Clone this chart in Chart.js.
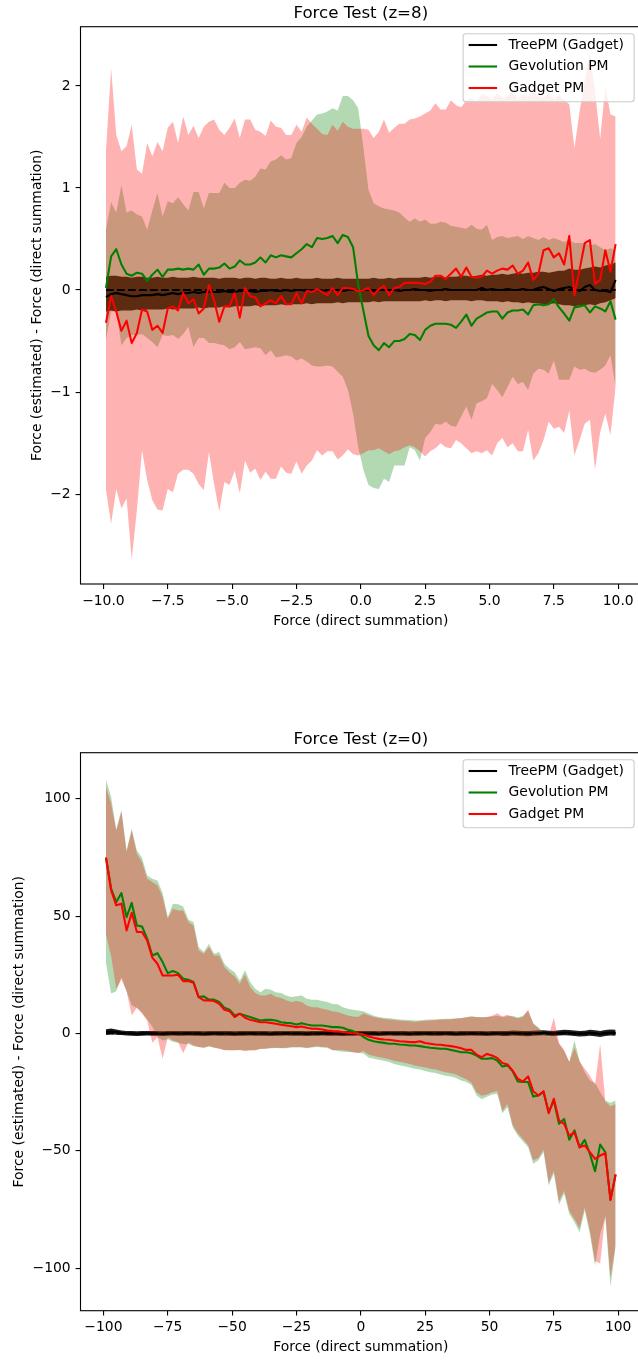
<!DOCTYPE html>
<html><head><meta charset="utf-8">
<script src="https://cdn.jsdelivr.net/npm/chart.js@4/dist/chart.umd.min.js"></script>
<style>
html,body{margin:0;padding:0;background:#fff;width:638px;height:1360px;overflow:hidden;}
#wrap{position:relative;width:638px;height:1360px;overflow:hidden;background:#fff;}
canvas{position:absolute;left:0;}
#c1{top:0;}
#c2{top:680px;}
</style></head><body>
<div id="wrap"><canvas id="c1" width="660" height="680"></canvas><canvas id="c2" width="660" height="680"></canvas></div>
<script>
// ---------------- z = 8 ----------------
const xs8 = [-9.9,-9.7,-9.5,-9.3,-9.1,-8.9,-8.7,-8.5,-8.3,-8.1,
-7.9,-7.7,-7.5,-7.3,-7.1,-6.9,-6.7,-6.5,-6.3,-6.1,
-5.9,-5.7,-5.5,-5.3,-5.1,-4.9,-4.7,-4.5,-4.3,-4.1,
-3.9,-3.7,-3.5,-3.3,-3.1,-2.9,-2.7,-2.5,-2.3,-2.1,
-1.9,-1.7,-1.5,-1.3,-1.1,-0.9,-0.7,-0.5,-0.3,-0.1,
0.1,0.3,0.5,0.7,0.9,1.1,1.3,1.5,1.7,1.9,
2.1,2.3,2.5,2.7,2.9,3.1,3.3,3.5,3.7,3.9,
4.1,4.3,4.5,4.7,4.9,5.1,5.3,5.5,5.7,5.9,
6.1,6.3,6.5,6.7,6.9,7.1,7.3,7.5,7.7,7.9,
8.1,8.3,8.5,8.7,8.9,9.1,9.3,9.5,9.7,9.9];

const tree8 = [-0.07,-0.04,-0.03,-0.04,-0.05,-0.06,-0.06,-0.05,-0.05,-0.05,
-0.04,-0.05,-0.04,-0.03,-0.04,-0.03,-0.03,-0.02,-0.03,-0.02,
-0.02,-0.02,-0.02,-0.01,-0.02,-0.02,-0.01,-0.01,-0.01,-0.02,
-0.01,-0.01,0.00,-0.01,-0.01,0.00,-0.01,0.00,0.00,-0.01,
0.00,0.00,-0.01,0.00,0.00,0.00,-0.01,0.00,0.00,0.00,
0.00,0.00,-0.01,0.00,0.00,0.00,0.00,-0.01,0.00,0.00,
0.01,0.00,0.00,-0.01,0.00,0.00,0.01,0.00,0.00,0.00,
0.00,0.00,0.00,0.02,0.00,0.01,0.00,0.00,0.01,0.00,
0.00,0.01,0.00,0.00,0.02,0.03,0.01,-0.01,0.01,0.02,
0.03,0.01,-0.01,0.03,0.05,0.00,-0.01,-0.01,-0.02,0.10];
const treeHi8 = [0.13,0.14,0.14,0.13,0.13,0.12,0.13,0.13,0.12,0.12,
0.13,0.12,0.12,0.13,0.12,0.12,0.12,0.13,0.12,0.12,
0.12,0.12,0.11,0.12,0.12,0.12,0.11,0.12,0.12,0.11,
0.12,0.12,0.11,0.11,0.12,0.11,0.11,0.12,0.11,0.11,
0.11,0.12,0.11,0.11,0.11,0.12,0.11,0.11,0.11,0.11,
0.11,0.11,0.12,0.11,0.11,0.12,0.11,0.12,0.12,0.12,
0.12,0.12,0.13,0.12,0.13,0.13,0.12,0.13,0.13,0.14,
0.14,0.13,0.14,0.15,0.14,0.15,0.15,0.16,0.15,0.16,
0.17,0.16,0.17,0.17,0.18,0.18,0.17,0.18,0.19,0.19,
0.21,0.20,0.20,0.21,0.22,0.23,0.22,0.24,0.25,0.27];
const treeLo8 = [-0.21,-0.20,-0.21,-0.20,-0.20,-0.20,-0.19,-0.20,-0.19,-0.19,
-0.19,-0.19,-0.18,-0.19,-0.18,-0.18,-0.18,-0.18,-0.17,-0.18,
-0.17,-0.17,-0.17,-0.16,-0.17,-0.16,-0.16,-0.16,-0.16,-0.15,
-0.16,-0.15,-0.15,-0.15,-0.14,-0.15,-0.14,-0.14,-0.14,-0.13,
-0.14,-0.13,-0.13,-0.13,-0.13,-0.12,-0.13,-0.12,-0.12,-0.12,
-0.12,-0.12,-0.11,-0.12,-0.11,-0.11,-0.11,-0.11,-0.11,-0.11,
-0.11,-0.11,-0.10,-0.11,-0.10,-0.10,-0.11,-0.10,-0.10,-0.10,
-0.10,-0.11,-0.10,-0.10,-0.11,-0.11,-0.11,-0.12,-0.11,-0.12,
-0.12,-0.13,-0.12,-0.13,-0.13,-0.14,-0.14,-0.13,-0.14,-0.15,
-0.15,-0.16,-0.15,-0.15,-0.14,-0.15,-0.13,-0.12,-0.10,-0.08];

const gevo8 = [0.02,0.33,0.40,0.25,0.16,0.14,0.17,0.16,0.09,0.15,
0.20,0.13,0.20,0.20,0.21,0.20,0.21,0.20,0.25,0.15,
0.21,0.21,0.22,0.26,0.21,0.23,0.29,0.25,0.25,0.27,
0.32,0.27,0.34,0.32,0.34,0.33,0.32,0.36,0.40,0.45,
0.42,0.51,0.50,0.51,0.53,0.46,0.54,0.52,0.42,0.05,
-0.20,-0.45,-0.54,-0.59,-0.52,-0.56,-0.50,-0.50,-0.48,-0.43,
-0.44,-0.49,-0.39,-0.35,-0.33,-0.33,-0.33,-0.34,-0.37,-0.31,
-0.24,-0.35,-0.28,-0.25,-0.22,-0.21,-0.21,-0.28,-0.22,-0.20,
-0.20,-0.19,-0.24,-0.15,-0.14,-0.15,-0.14,-0.09,-0.17,-0.23,
-0.30,-0.17,-0.16,-0.15,-0.22,-0.16,-0.18,-0.21,-0.11,-0.29];
const gevoHi8 = [0.59,0.86,0.76,1.03,0.76,0.78,0.74,0.72,0.59,0.78,
0.95,0.72,0.87,0.85,0.91,0.84,0.78,0.96,0.96,0.80,
0.95,0.95,0.95,1.05,1.00,1.00,1.05,1.08,1.07,1.11,
1.19,1.18,1.26,1.28,1.32,1.28,1.29,1.44,1.50,1.60,
1.66,1.72,1.73,1.75,1.78,1.76,1.90,1.90,1.86,1.78,
1.40,0.98,0.85,0.82,0.80,0.79,0.78,0.76,0.71,0.67,
0.70,0.67,0.69,0.65,0.65,0.67,0.66,0.63,0.62,0.61,
0.60,0.64,0.60,0.59,0.64,0.49,0.52,0.53,0.51,0.52,
0.53,0.50,0.53,0.51,0.49,0.52,0.49,0.51,0.49,0.47,
0.49,0.46,0.46,0.46,0.44,0.45,0.42,0.39,0.41,0.39];
const gevoLo8 = [-0.49,-0.21,-0.21,-0.54,-0.47,-0.44,-0.44,-0.43,-0.47,-0.51,
-0.56,-0.44,-0.45,-0.44,-0.48,-0.43,-0.36,-0.56,-0.47,-0.47,
-0.52,-0.52,-0.53,-0.54,-0.58,-0.56,-0.51,-0.58,-0.57,-0.56,
-0.57,-0.64,-0.59,-0.66,-0.65,-0.64,-0.65,-0.69,-0.67,-0.70,
-0.74,-0.75,-0.75,-0.74,-0.75,-0.80,-0.85,-0.98,-1.21,-1.54,
-1.76,-1.91,-1.94,-1.95,-1.85,-1.88,-1.72,-1.72,-1.72,-1.54,
-1.57,-1.67,-1.45,-1.39,-1.31,-1.32,-1.29,-1.33,-1.34,-1.24,
-1.14,-1.27,-1.11,-1.09,-1.06,-0.92,-0.98,-1.05,-0.95,-0.85,
-0.92,-0.90,-0.98,-0.82,-0.77,-0.78,-0.82,-0.69,-0.88,-0.88,
-0.88,-0.75,-0.78,-0.77,-0.80,-0.81,-0.78,-0.74,-0.64,-0.95];

const gadg8 = [-0.32,-0.06,-0.21,-0.40,-0.30,-0.52,-0.42,-0.19,-0.21,-0.39,
-0.35,-0.42,-0.18,-0.16,-0.20,-0.03,-0.13,-0.09,-0.23,-0.18,
0.05,-0.10,-0.31,-0.16,-0.16,-0.03,-0.27,0.02,-0.06,-0.07,
-0.16,-0.13,-0.10,-0.13,-0.06,-0.14,-0.14,-0.03,-0.13,-0.01,
-0.02,0.01,-0.02,-0.05,0.02,-0.05,0.02,0.02,0.01,-0.01,
0.00,0.02,-0.05,0.01,0.04,-0.05,0.02,0.03,0.07,0.07,
0.07,0.07,0.06,0.08,0.14,0.14,0.11,0.16,0.21,0.13,
0.22,0.13,0.12,0.13,0.19,0.16,0.19,0.21,0.20,0.24,
0.16,0.19,0.27,0.10,0.16,0.39,0.41,0.32,0.36,0.25,
0.53,-0.05,0.20,0.46,0.49,0.06,0.10,0.39,0.18,0.45];
const gadgHi8 = [1.37,2.17,1.52,1.36,1.41,1.62,1.18,1.14,1.44,1.31,
1.45,1.36,1.59,1.65,1.44,1.70,1.52,1.61,1.49,1.60,
1.65,1.67,1.57,1.52,1.59,1.68,1.49,1.67,1.67,1.57,
1.55,1.51,1.66,1.60,1.59,1.52,1.52,1.62,1.55,1.69,
1.63,1.58,1.53,1.52,1.62,1.56,1.65,1.60,1.58,1.58,
1.58,1.57,1.49,1.55,1.67,1.54,1.59,1.63,1.63,1.67,
1.68,1.70,1.73,1.76,1.83,1.77,1.77,1.86,1.81,1.79,
1.86,1.88,1.85,1.92,1.90,1.87,1.93,1.88,1.90,1.95,
1.87,1.92,1.89,1.95,1.90,1.88,1.93,1.87,1.91,1.86,
1.82,1.39,1.75,2.05,2.33,1.95,1.48,2.00,1.72,1.70];
const gadgLo8 = [-1.96,-2.29,-1.95,-2.14,-2.04,-2.64,-2.16,-1.57,-1.86,-2.06,
-2.15,-2.16,-1.95,-1.98,-1.80,-1.76,-1.76,-1.80,-1.90,-1.96,
-1.59,-1.90,-2.17,-1.88,-1.91,-1.77,-1.99,-1.67,-1.79,-1.75,
-1.86,-1.78,-1.85,-1.85,-1.73,-1.79,-1.80,-1.68,-1.80,-1.72,
-1.67,-1.57,-1.62,-1.58,-1.58,-1.66,-1.62,-1.56,-1.61,-1.62,
-1.60,-1.57,-1.57,-1.55,-1.58,-1.61,-1.58,-1.57,-1.54,-1.52,
-1.54,-1.58,-1.63,-1.58,-1.55,-1.50,-1.54,-1.55,-1.47,-1.50,
-1.55,-1.60,-1.58,-1.60,-1.57,-1.62,-1.50,-1.45,-1.54,-1.50,
-1.58,-1.58,-1.37,-1.67,-1.60,-1.47,-1.29,-1.36,-1.34,-1.40,
-1.18,-1.62,-1.47,-1.31,-1.27,-1.76,-1.39,-1.21,-1.42,-0.95];

const xTicks8 = [-10,-7.5,-5,-2.5,0,2.5,5,7.5,10];
const xTickLabels8 = ['\u221210.0','\u22127.5','\u22125.0','\u22122.5','0.0','2.5','5.0','7.5','10.0'];
const yTicks8 = [-2,-1,0,1,2];
const yTickLabels8 = ['\u22122','\u22121','0','1','2'];

// ---------------- z = 0 ----------------
const xs0 = [-99,-97,-95,-93,-91,-89,-87,-85,-83,-81,
-79,-77,-75,-73,-71,-69,-67,-65,-63,-61,
-59,-57,-55,-53,-51,-49,-47,-45,-43,-41,
-39,-37,-35,-33,-31,-29,-27,-25,-23,-21,
-19,-17,-15,-13,-11,-9,-7,-5,-3,-1,
1,3,5,7,9,11,13,15,17,19,
21,23,25,27,29,31,33,35,37,39,
41,43,45,47,49,51,53,55,57,59,
61,63,65,67,69,71,73,75,77,79,
81,83,85,87,89,91,93,95,97,99];

const tree0 = [0.6,0.9,0.6,0.3,0.1,0.0,-0.1,0.0,0.1,0.0,
0.0,-0.1,0.0,0.1,0.0,0.0,0.1,0.0,0.0,-0.1,
0.0,0.1,0.0,0.0,0.0,-0.1,0.0,0.0,0.1,0.0,
0.0,0.0,-0.1,0.0,0.0,0.1,0.0,0.0,0.0,-0.1,
0.0,0.0,0.1,0.0,0.0,0.0,-0.1,0.0,0.0,0.1,
0.0,0.0,0.0,-0.1,0.0,0.1,0.0,0.0,0.0,-0.1,
0.0,0.0,0.1,0.0,0.0,0.0,0.1,0.0,-0.1,0.0,
0.0,0.1,0.0,0.0,-0.1,0.0,0.1,0.0,0.0,0.2,
0.1,0.0,-0.1,0.1,0.2,0.3,0.1,0.0,0.2,0.4,
0.3,0.1,-0.1,0.0,0.3,0.1,-0.2,0.2,0.4,0.3];
const treeHi0 = [1.8,2.1,1.7,1.3,1.1,1.0,0.9,1.0,1.1,1.0,
1.0,0.9,1.0,1.1,1.0,1.0,1.1,1.0,1.0,0.9,
1.0,1.1,1.0,1.0,1.0,0.9,1.0,1.0,1.1,1.0,
1.0,1.0,0.9,1.0,1.0,1.1,1.0,1.0,1.0,0.9,
1.0,1.0,1.1,1.0,1.0,1.0,0.9,1.0,1.0,1.1,
1.0,1.0,1.0,0.9,1.0,1.1,1.0,1.0,1.0,0.9,
1.0,1.0,1.1,1.0,1.0,1.0,1.1,1.0,0.9,1.0,
1.0,1.1,1.0,1.0,0.9,1.0,1.1,1.1,1.1,1.3,
1.2,1.1,1.0,1.2,1.3,1.4,1.2,1.1,1.4,1.6,
1.5,1.3,1.1,1.2,1.6,1.4,1.1,1.5,1.7,1.6];
const treeLo0 = [-0.6,-0.3,-0.5,-0.7,-0.9,-1.0,-1.1,-1.0,-0.9,-1.0,
-1.0,-1.1,-1.0,-0.9,-1.0,-1.0,-0.9,-1.0,-1.0,-1.1,
-1.0,-0.9,-1.0,-1.0,-1.0,-1.1,-1.0,-1.0,-0.9,-1.0,
-1.0,-1.0,-1.1,-1.0,-1.0,-0.9,-1.0,-1.0,-1.0,-1.1,
-1.0,-1.0,-0.9,-1.0,-1.0,-1.0,-1.1,-1.0,-1.0,-0.9,
-1.0,-1.0,-1.0,-1.1,-1.0,-0.9,-1.0,-1.0,-1.0,-1.1,
-1.0,-1.0,-0.9,-1.0,-1.0,-1.0,-0.9,-1.0,-1.1,-1.0,
-1.0,-0.9,-1.0,-1.0,-1.1,-1.0,-0.9,-1.1,-1.1,-0.9,
-1.0,-1.1,-1.2,-1.0,-0.9,-0.8,-1.0,-1.1,-0.9,-0.8,
-0.9,-1.1,-1.3,-1.2,-1.0,-1.2,-1.5,-1.1,-0.9,-1.0];

const gevo0 = [74.9,61.7,56.0,59.8,49.6,55.6,46.0,45.6,40.4,33.2,
34.2,30.4,25.7,26.6,25.7,23.3,22.9,21.9,15.5,15.8,
14.4,14.4,13.4,11.0,10.1,7.7,8.4,7.7,7.0,6.3,
5.5,5.8,5.8,5.5,4.8,4.5,4.4,3.8,4.4,3.8,
3.4,3.4,3.4,3.1,2.7,2.7,2.4,1.6,1.0,0.1,
-1.5,-2.7,-3.3,-3.7,-4.0,-4.4,-4.4,-4.7,-4.8,-5.1,
-5.1,-5.4,-5.8,-6.1,-6.3,-6.5,-6.5,-7.0,-7.5,-8.0,
-8.0,-8.4,-9.4,-10.8,-10.8,-10.5,-11.5,-14.1,-13.6,-16.1,
-20.5,-20.7,-20.7,-26.9,-26.4,-25.0,-33.5,-28.6,-38.5,-36.4,
-45.3,-41.3,-48.5,-45.3,-51.3,-58.7,-47.3,-50.6,-70.9,-60.1];
const gevoHi0 = [108.1,100.7,86.8,95.3,78.0,87.2,78.0,74.9,67.3,65.9,
65.2,59.8,49.6,55.3,55.0,54.1,48.5,47.5,36.8,34.7,
38.2,34.0,34.7,29.7,27.6,26.1,22.6,26.9,21.9,19.0,
17.6,19.0,18.6,17.6,17.2,16.2,15.5,15.8,16.2,14.8,
14.4,14.4,13.8,13.4,12.6,12.4,11.2,10.5,10.1,9.8,
9.5,8.5,7.5,7.0,6.7,6.5,6.3,6.0,5.8,5.7,
5.5,5.6,5.8,5.9,6.0,6.2,6.3,6.3,6.5,6.6,
7.0,7.2,7.0,7.0,7.0,7.2,7.5,7.0,7.3,7.5,
6.8,7.5,9.6,4.5,2.5,0.5,-1.5,1.5,-4.5,-7.5,
-12.0,-3.0,-11.5,-16.5,-20.0,-21.0,-25.0,-28.6,-29.5,-28.6];
const gevoLo0 = [30.0,17.0,18.0,24.0,18.0,12.0,11.0,9.0,6.0,3.0,
-1.5,-3.0,-2.5,-3.5,-4.0,-4.5,-4.5,-5.5,-5.8,-6.1,
-5.5,-6.0,-6.4,-7.0,-7.2,-7.2,-7.0,-7.3,-7.2,-7.2,
-6.6,-6.5,-6.3,-6.2,-6.3,-6.3,-6.0,-6.0,-6.0,-6.3,
-6.0,-5.8,-6.0,-6.2,-7.2,-7.5,-7.8,-7.9,-8.0,-8.2,
-8.5,-10.2,-10.8,-11.2,-11.6,-12.2,-13.0,-13.5,-14.0,-14.5,
-15.0,-15.4,-16.0,-16.5,-16.8,-17.5,-18.0,-18.3,-19.0,-20.0,
-20.7,-22.0,-26.4,-28.0,-27.0,-26.0,-25.7,-34.0,-31.4,-40.0,
-43.5,-46.0,-48.5,-55.5,-54.0,-50.6,-64.8,-59.8,-73.0,-68.3,
-76.9,-80.4,-84.7,-75.4,-85.4,-98.9,-85.4,-78.3,-107.8,-91.1];

const gadg0 = [74.9,61.0,54.6,55.3,43.9,51.4,43.2,43.2,39.6,32.3,
29.7,24.7,24.7,24.7,25.0,22.3,22.3,21.6,15.5,14.1,
14.1,13.8,12.6,10.1,9.5,7.0,8.4,6.7,5.8,5.3,
4.8,4.8,4.5,4.1,3.7,3.4,3.1,2.7,3.0,2.4,
2.0,2.0,1.7,1.3,1.0,0.9,0.6,0.3,0.1,-0.1,
-0.4,-1.3,-1.8,-2.3,-2.6,-2.7,-3.0,-3.3,-3.4,-3.7,
-3.7,-3.3,-4.1,-4.4,-4.7,-4.8,-5.1,-5.4,-5.8,-6.3,
-7.0,-7.0,-9.0,-10.1,-8.7,-9.4,-10.4,-12.6,-13.2,-15.8,
-19.3,-20.5,-18.3,-24.6,-26.4,-24.6,-34.0,-27.8,-37.1,-38.5,
-43.5,-42.1,-48.5,-47.7,-50.6,-53.4,-52.0,-51.0,-70.9,-60.1];
const gadgHi0 = [105.0,97.9,86.5,94.3,77.3,86.5,76.6,73.0,65.9,64.5,
63.1,58.1,48.9,53.1,52.4,52.4,47.5,46.0,35.4,34.0,
36.8,33.2,33.2,28.3,26.1,24.3,21.2,25.1,19.7,17.2,
16.2,16.2,16.9,15.5,15.2,14.1,13.4,13.8,13.4,11.9,
11.2,11.2,10.5,10.1,9.5,9.1,8.4,7.7,7.2,7.0,
8.5,7.8,7.0,6.6,6.2,6.0,5.7,5.5,5.3,5.2,
5.0,5.2,5.4,5.5,5.7,6.0,6.0,6.1,6.3,6.5,
6.8,7.2,7.0,6.8,7.0,7.5,8.6,7.2,8.0,7.0,
6.5,7.0,10.2,4.0,2.2,0.0,-1.0,6.7,-4.0,-7.0,
-12.2,-6.0,-12.0,-15.0,-18.0,-22.0,-4.4,-29.0,-31.0,-30.0];
const gadgLo0 = [42.0,33.0,19.0,23.0,18.0,7.7,11.0,8.4,5.5,-4.0,
-1.6,-10.8,-1.6,-3.0,-3.7,-8.4,-3.7,-5.1,-5.8,-6.1,
-5.5,-6.1,-6.5,-7.2,-7.2,-7.2,-7.0,-7.5,-7.2,-7.2,
-6.5,-6.5,-6.1,-6.1,-6.2,-6.1,-5.8,-5.8,-5.8,-6.1,
-5.8,-5.5,-5.8,-5.8,-7.0,-7.0,-7.2,-7.5,-8.0,-8.4,
-7.5,-9.0,-9.6,-10.0,-10.4,-11.0,-11.6,-12.0,-12.5,-13.0,
-13.6,-14.1,-14.5,-15.0,-15.4,-16.0,-16.5,-17.0,-17.5,-18.5,
-19.5,-21.0,-25.0,-26.5,-26.0,-25.0,-24.5,-33.0,-30.0,-39.0,
-42.5,-45.0,-47.5,-54.0,-53.0,-49.5,-63.5,-58.5,-71.5,-67.0,
-75.5,-79.0,-83.0,-74.0,-84.0,-97.0,-98.0,-77.0,-104.0,-90.0];

const xTicks0 = [-100,-75,-50,-25,0,25,50,75,100];
const xTickLabels0 = ['\u2212100','\u221275','\u221250','\u221225','0','25','50','75','100'];
const yTicks0 = [-100,-50,0,50,100];
const yTickLabels0 = ['\u2212100','\u221250','0','50','100'];

const seriesNames = ['TreePM (Gadget)', 'Gevolution PM', 'Gadget PM'];
const titleText8 = 'Force Test (z=8)';
const titleText0 = 'Force Test (z=0)';
const xTitle = 'Force (direct summation)';
const yTitle = 'Force (estimated) - Force (direct summation)';

// ---------------- styles ----------------
const lineColors = ['#000000', '#008000', '#ff0000'];
const bandColors = ['rgba(0,0,0,0.88)', 'rgba(0,128,0,0.3)', 'rgba(255,0,0,0.3)'];
const FONT = '"DejaVu Sans", sans-serif';
Chart.defaults.font.family = FONT;
Chart.defaults.color = '#000';

function pts(xs, ys) { return xs.map((x, i) => ({x: x, y: ys[i]})); }

function buildDatasets(xs, mids, los, his) {
  const ds = [];
  for (let k = 0; k < 3; k++) {
    ds.push({label: '_lo' + k, data: pts(xs, los[k]), borderWidth: 0, borderColor: 'rgba(0,0,0,0)',
             pointRadius: 0, fill: false, order: 40 - k * 10});
    ds.push({label: '_hi' + k, data: pts(xs, his[k]), borderWidth: 0, borderColor: 'rgba(0,0,0,0)',
             pointRadius: 0, fill: '-1', backgroundColor: bandColors[k], order: 40 - k * 10});
  }
  ds.push({label: '_zero', data: [{x: xs[0], y: 0}, {x: xs[xs.length - 1], y: 0}], borderColor: '#000',
           borderWidth: 2.08, borderDash: [7.7, 3.3], pointRadius: 0, fill: false, order: 4});
  for (let k = 0; k < 3; k++) {
    ds.push({label: seriesNames[k], inLegend: true, data: pts(xs, mids[k]), borderColor: lineColors[k],
             borderWidth: 2.08, pointRadius: 0, fill: false, order: 3 - k, borderJoinStyle: 'round'});
  }
  return ds;
}

const mplPlugin = {
  id: 'mpl',
  afterDatasetsDraw(chart) {
    const {ctx, chartArea: a} = chart;
    ctx.save();
    ctx.strokeStyle = '#000';
    ctx.lineWidth = 1.11;
    ctx.strokeRect(a.left, a.top, a.right - a.left, a.bottom - a.top);
    ctx.restore();
  },
  afterDraw(chart) {
    const o = chart.options.plugins.mpl;
    const {ctx, chartArea: a} = chart;
    const w = o.w, h = o.h;
    const x0 = a.right - o.pad - w, y0 = a.top + o.pad;
    ctx.save();
    ctx.beginPath();
    ctx.roundRect(x0, y0, w, h, 3);
    ctx.fillStyle = 'rgba(255,255,255,0.8)';
    ctx.fill();
    ctx.strokeStyle = '#cccccc';
    ctx.lineWidth = 1.1;
    ctx.stroke();
    ctx.font = '13.89px ' + FONT;
    ctx.textBaseline = 'middle';
    ctx.textAlign = 'left';
    const items = chart.data.datasets.filter(d => d.inLegend);
    items.forEach((d, k) => {
      const y = y0 + o.first + k * o.gap;
      ctx.strokeStyle = d.borderColor;
      ctx.lineWidth = 2.08;
      ctx.beginPath();
      ctx.moveTo(x0 + 5.5, y);
      ctx.lineTo(x0 + 34, y);
      ctx.stroke();
      ctx.fillStyle = '#000';
      ctx.fillText(d.label, x0 + 45.5, y);
    });
    ctx.restore();
  }
};

function makeChart(id, s) {
  const tickFont = {family: FONT, size: 13.89};
  return new Chart(document.getElementById(id), {
    type: 'line',
    data: {datasets: buildDatasets(s.xs, s.mids, s.los, s.his)},
    options: {
      responsive: false, maintainAspectRatio: false, animation: false, devicePixelRatio: 1,
      events: [],
      layout: {padding: s.layoutPad},
      plugins: {
        legend: {display: false},
        tooltip: {enabled: false},
        filler: {propagate: false, drawTime: 'beforeDatasetsDraw'},
        title: {display: true, text: s.title, color: '#000', fullSize: false,
                font: {family: FONT, size: 16.67, weight: 'normal'}, padding: s.titlePad},
        mpl: {pad: 7, w: 171, h: 68, first: 11.3, gap: 21.5}
      },
      scales: {
        x: {
          type: 'linear', min: s.xmin, max: s.xmax, offset: false,
          afterBuildTicks: ax => { ax.ticks = s.xTicks.map(v => ({value: v})); },
          afterFit: ax => { ax.height = s.xH; },
          ticks: {autoSkip: false, maxRotation: 0, minRotation: 0, padding: 3.7, color: '#000', font: tickFont,
                  callback: (v, i) => s.xLabels[i]},
          grid: {display: true, drawOnChartArea: false, drawTicks: true, tickLength: 4.9, color: '#000', lineWidth: 1.11},
          border: {display: false},
          title: {display: true, text: xTitle, color: '#000', font: tickFont, padding: {top: 0, bottom: 4.7}}
        },
        y: {
          type: 'linear', min: s.ymin, max: s.ymax,
          afterBuildTicks: ax => { ax.ticks = s.yTicks.map(v => ({value: v})); },
          afterFit: ax => { ax.width = 80.5; },
          ticks: {autoSkip: false, padding: 4.9, color: '#000', font: tickFont,
                  callback: (v, i) => s.yLabels[i]},
          grid: {display: true, drawOnChartArea: false, drawTicks: true, tickLength: 4.9, color: '#000', lineWidth: 1.11},
          border: {display: false},
          title: {display: true, text: yTitle, color: '#000', font: tickFont, padding: {top: s.yTitlePad, bottom: 0}}
        }
      }
    },
    plugins: [mplPlugin]
  });
}

makeChart('c1', {
  xs: xs8, mids: [tree8, gevo8, gadg8], los: [treeLo8, gevoLo8, gadgLo8], his: [treeHi8, gevoHi8, gadgHi8],
  title: titleText8, xTicks: xTicks8, xLabels: xTickLabels8, yTicks: yTicks8, yLabels: yTickLabels8,
  xmin: -10.89, xmax: 10.89, ymin: -2.88, ymax: 2.58,
  layoutPad: {top: 0, bottom: 46, left: 0, right: 18.9}, titlePad: {top: 3.3, bottom: 3.4},
  xH: 50, yTitlePad: 28.7
});
makeChart('c2', {
  xs: xs0, mids: [tree0, gevo0, gadg0], los: [treeLo0, gevoLo0, gadgLo0], his: [treeHi0, gevoHi0, gadgHi0],
  title: titleText0, xTicks: xTicks0, xLabels: xTickLabels0, yTicks: yTicks0, yLabels: yTickLabels0,
  xmin: -108.9, xmax: 108.9, ymin: -118.1, ymax: 119.6,
  layoutPad: {top: 45, bottom: 0, left: 0, right: 18.9}, titlePad: {top: 4.3, bottom: 3.4},
  xH: 49.3, yTitlePad: 10.7
});
</script>
</body></html>
